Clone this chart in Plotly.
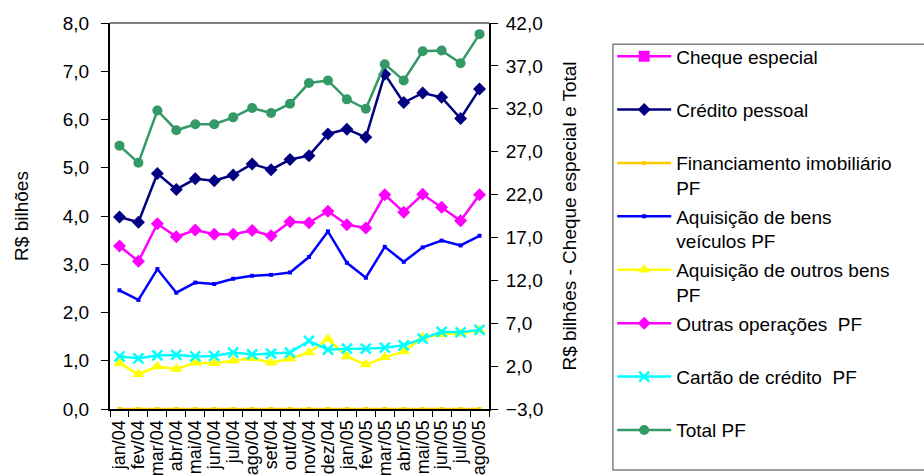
import plotly.graph_objects as go

months = ["jan/04", "fev/04", "mar/04", "abr/04", "mai/04", "jun/04", "jul/04", "ago/04",
          "set/04", "out/04", "nov/04", "dez/04", "jan/05", "fev/05", "mar/05", "abr/05",
          "mai/05", "jun/05", "jul/05", "ago/05"]

cheque_especial = [None] * 20
credito_pessoal = [3.98, 3.87, 4.88, 4.55, 4.77, 4.73, 4.85, 5.08, 4.96, 5.17,
                   5.25, 5.70, 5.80, 5.63, 6.94, 6.35, 6.55, 6.46, 6.02, 6.63]
financiamento_imob = [0.0] * 20
veiculos = [2.46, 2.26, 2.90, 2.41, 2.62, 2.59, 2.70, 2.76, 2.78, 2.83,
            3.15, 3.68, 3.03, 2.72, 3.36, 3.05, 3.35, 3.49, 3.39, 3.59]
outros_bens = [0.95, 0.72, 0.88, 0.83, 0.96, 0.95, 1.00, 1.05, 0.96, 1.04,
               1.17, 1.45, 1.09, 0.92, 1.07, 1.19, 1.48, 1.55, 1.57, 1.63]
outras_operacoes = [3.38, 3.06, 3.84, 3.57, 3.71, 3.62, 3.62, 3.70, 3.59, 3.88,
                    3.86, 4.10, 3.82, 3.75, 4.44, 4.08, 4.45, 4.18, 3.90, 4.44]
cartao = [1.09, 1.05, 1.11, 1.12, 1.09, 1.10, 1.17, 1.13, 1.15, 1.17,
          1.41, 1.23, 1.25, 1.25, 1.27, 1.32, 1.46, 1.60, 1.59, 1.64]
total_pf = [27.7, 25.7, 31.8, 29.5, 30.2, 30.2, 31.0, 32.1, 31.5, 32.6,
            35.0, 35.3, 33.1, 32.0, 37.2, 35.3, 38.7, 38.8, 37.3, 40.7]

FONT = "Liberation Sans, Arial, sans-serif"
FS = 19
LW = 2.5

fig = go.Figure()

def add(name, y, color, symbol, size, axis="y", mline=None):
    marker = dict(symbol=symbol, size=size, color=color)
    if mline:
        marker["line"] = dict(color=color, width=mline)
    fig.add_trace(go.Scatter(x=months, y=y, name=name, yaxis=axis,
                             legendgroup=name,
                             mode="lines+markers",
                             line=dict(color=color, width=LW),
                             marker=marker))

add("Cheque especial<br> ", cheque_especial, "#FF00FF", "square", 11, axis="y2")
add("Crédito pessoal<br> ", credito_pessoal, "#000080", "diamond", 10)
add("Financiamento imobiliário<br>PF", financiamento_imob, "#FFCC00", "square", 4)
add("Aquisição de bens<br>veículos PF", veiculos, "#0000FF", "square", 4)
add("Aquisição de outros bens<br>PF", outros_bens, "#FFFF00", "triangle-up", 11)
add("Outras operações  PF<br> ", outras_operacoes, "#FF00FF", "diamond", 10)
add("Cartão de crédito  PF<br> ", cartao, "#00FFFF", "x-thin", 10, mline=2.5)
add("Total PF<br> ", total_pf, "#339966", "circle", 10, axis="y2")

fig.update_layout(
    width=924, height=476,
    margin=dict(l=110, r=435, t=23, b=67, autoexpand=False),
    paper_bgcolor="white", plot_bgcolor="white",
    separators=",.",
    font=dict(family=FONT, size=FS, color="black"),
    showlegend=True,
    legend=dict(x=1.325, y=0.963, xanchor="left", yanchor="top",
                borderwidth=0, bgcolor="rgba(0,0,0,0)",
                valign="top", itemwidth=54, tracegroupgap=1, maxheight=1000,
                font=dict(family=FONT, size=FS, color="black")),
    xaxis=dict(type="category", range=[-0.5, 19.5], showgrid=False,
               tickmode="array", tickvals=months, ticktext=months,
               showline=True, linecolor="black", linewidth=2,
               ticks="outside", tickson="boundaries", ticklen=6, tickcolor="black",
               tickangle=-90, tickfont=dict(size=18), ticklabelstandoff=2,
               automargin=False),
    yaxis=dict(range=[0, 8], dtick=1, tickformat=".1f", showgrid=False,
               zeroline=False, showline=True, linecolor="black", linewidth=2,
               ticks="outside", ticklen=7, tickcolor="black", ticklabelstandoff=8,
               automargin=False,
               title=dict(text="R$ bilhões", standoff=29, font=dict(size=FS))),
    yaxis2=dict(range=[-3, 42], dtick=5, tick0=-3, tickformat=".1f", showgrid=False,
                zeroline=False, overlaying="y", side="right",
                showline=True, linecolor="black", linewidth=2,
                ticks="outside", ticklen=7, tickcolor="black", ticklabelstandoff=4,
                automargin=False,
                title=dict(text="R$ bilhões - Cheque especial e Total", standoff=20,
                           font=dict(size=FS))),
)

# plot-area top border and legend frame
fig.add_shape(type="line", xref="paper", yref="paper", x0=0, x1=1, y0=1, y1=1,
              line=dict(color="#808080", width=2))
fig.add_shape(type="rect", xref="paper", yref="paper", x0=1.327, x1=2.2, y0=-0.158, y1=0.945,
              line=dict(color="#808080", width=1.5), layer="below")

fig.write_html("out.html", config={"displayModeBar": False},
               post_script="document.body.style.margin='0';")
